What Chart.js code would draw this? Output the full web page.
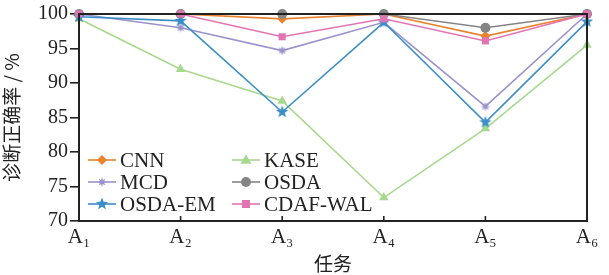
<!DOCTYPE html>
<html lang="zh">
<head>
<meta charset="UTF-8">
<title>诊断正确率</title>
<script src="https://cdn.jsdelivr.net/npm/chart.js"></script>
<style>
  html, body { margin: 0; padding: 0; background: #fff; }
  #box { width: 609px; height: 275px; }
</style>
</head>
<body>
<div id="box"><canvas id="grafico"></canvas></div>
<script>
// dados
const tarefas = ['A\u2081', 'A\u2082', 'A\u2083', 'A\u2084', 'A\u2085', 'A\u2086'];
const cnn     = [100.0, 100.0, 99.3, 100.0, 96.8, 100.0];
const kase    = [99.3, 92.0, 87.4, 73.4, 83.4, 95.5];
const mcd     = [100.0, 98.0, 94.7, 98.8, 86.6, 100.0];
const osda    = [100.0, 100.0, 100.0, 100.0, 98.0, 100.0];
const osdaEm  = [99.6, 99.0, 85.8, 98.8, 84.3, 98.9];
const cdafWal = [100.0, 100.0, 96.7, 99.3, 96.1, 100.0];
const yTicks  = [70, 75, 80, 85, 90, 95, 100];

const serif = '"Liberation Serif", "Times New Roman", serif';

function estrela(cor, pontas, rExt, rInt, tam) {
    let c = document.createElement('canvas');
    c.width = tam; c.height = tam;
    let g = c.getContext('2d');
    g.fillStyle = cor;
    g.beginPath();
    for (let i = 0; i < pontas * 2; i++) {
        let r = i % 2 == 0 ? rExt : rInt;
        let a = -Math.PI / 2 + i * Math.PI / pontas;
        let x = tam / 2 + r * Math.cos(a), y = tam / 2 + r * Math.sin(a);
        if (i == 0) g.moveTo(x, y); else g.lineTo(x, y);
    }
    g.closePath();
    g.fill();
    return c;
}

const starBlue = estrela('#3b8fc6', 5, 6.5, 2.8, 14);
const starLav  = estrela('#9b93cc', 8, 5, 2.2, 12);

function serie(label, data, cor, estilo, raio, ordem) {
    return {
        label: label, data: data,
        borderColor: cor, backgroundColor: cor,
        borderWidth: 1.6, pointStyle: estilo, pointRadius: raio,
        pointBorderWidth: 0, pointHoverRadius: raio,
        clip: false, order: ordem, tension: 0
    };
}

const series = [
    serie('CNN', cnn, '#e8822e', 'rectRot', 5, 3),
    serie('KASE', kase, '#a7d88d', 'triangle', 5.5, 5),
    serie('MCD', mcd, '#9b93cc', starLav, 5, 4),
    serie('OSDA', osda, '#858585', 'circle', 5, 2),
    serie('OSDA-EM', osdaEm, '#3b8fc6', starBlue, 6, 1),
    serie('CDAF-WAL', cdafWal, '#e274b4', 'rect', 5, 0)
];

function marcador(ctx, ds, x, y) {
    let r = ds.pointRadius;
    ctx.fillStyle = ds.backgroundColor;
    let st = ds.pointStyle;
    if (typeof st != 'string') {
        ctx.drawImage(st, x - st.width / 2, y - st.height / 2);
        return;
    }
    ctx.beginPath();
    if (st == 'circle') ctx.arc(x, y, r, 0, Math.PI * 2);
    else if (st == 'rect') ctx.rect(x - r * 0.8, y - r * 0.8, r * 1.6, r * 1.6);
    else if (st == 'rectRot') { ctx.moveTo(x, y - r); ctx.lineTo(x + r, y); ctx.lineTo(x, y + r); ctx.lineTo(x - r, y); }
    else if (st == 'triangle') { ctx.moveTo(x, y - r); ctx.lineTo(x + r, y + r * 0.7); ctx.lineTo(x - r, y + r * 0.7); }
    ctx.closePath();
    ctx.fill();
}

// moldura, ticks para dentro e legenda
const extras = {
    id: 'extras',
    afterDraw(chart) {
        const ctx = chart.ctx;
        const a = chart.chartArea;
        ctx.save();
        ctx.strokeStyle = '#222';
        ctx.lineWidth = 2;
        ctx.strokeRect(a.left, a.top, a.right - a.left, a.bottom - a.top);
        const xs = chart.scales.x;
        ctx.lineWidth = 1.6;
        for (let i = 1; i < tarefas.length - 1; i++) {
            let px = xs.getPixelForTick(i);
            ctx.beginPath();
            ctx.moveTo(px, a.bottom);
            ctx.lineTo(px, a.bottom - 5);
            ctx.stroke();
        }
        // legenda em duas colunas
        const col = [88, 232];
        const lin = [160, 182, 204];
        ctx.font = '21px ' + serif;
        ctx.textBaseline = 'middle';
        series.forEach(function (ds, i) {
            let x = col[i % 2], y = lin[Math.floor(i / 2)];
            ctx.strokeStyle = ds.borderColor;
            ctx.lineWidth = 1.6;
            ctx.beginPath();
            ctx.moveTo(x, y);
            ctx.lineTo(x + 28, y);
            ctx.stroke();
            marcador(ctx, ds, x + 14, y);
            ctx.fillStyle = '#222';
            ctx.fillText(ds.label, x + 32, y + 1);
        });
        ctx.restore();
    }
};

new Chart(document.getElementById('grafico'), {
    type: 'line',
    data: { labels: tarefas, datasets: series },
    options: {
        responsive: true,
        maintainAspectRatio: false,
        animation: false,
        layout: { padding: { top: 14, right: 22, left: 0, bottom: 0 } },
        plugins: { legend: { display: false }, tooltip: { enabled: false } },
        scales: {
            x: {
                type: 'category',
                offset: false,
                grid: { display: false, drawTicks: false },
                border: { display: false },
                ticks: { color: '#222', font: { family: serif, size: 21 }, padding: 4, maxRotation: 0 },
                title: { display: true, text: '任务', color: '#222', font: { family: '"Noto Sans CJK SC", sans-serif', size: 19 }, padding: { top: 0, bottom: 0 } },
                afterFit(s) { s.height = 54; }
            },
            y: {
                min: 70, max: 100,
                afterBuildTicks(s) { s.ticks = yTicks.map(v => ({ value: v })); },
                grid: { drawOnChartArea: false, tickLength: 9, color: '#222', lineWidth: 1.6 },
                border: { display: false },
                ticks: { color: '#222', font: { family: serif, size: 20 }, padding: 2 },
                title: { display: true, text: '诊断正确率 / %', color: '#222', font: { family: '"Noto Sans CJK SC", sans-serif', size: 19 }, padding: { top: 0, bottom: 4 } },
                afterFit(s) { s.width = 79; }
            }
        }
    },
    plugins: [extras]
});
</script>
</body>
</html>
